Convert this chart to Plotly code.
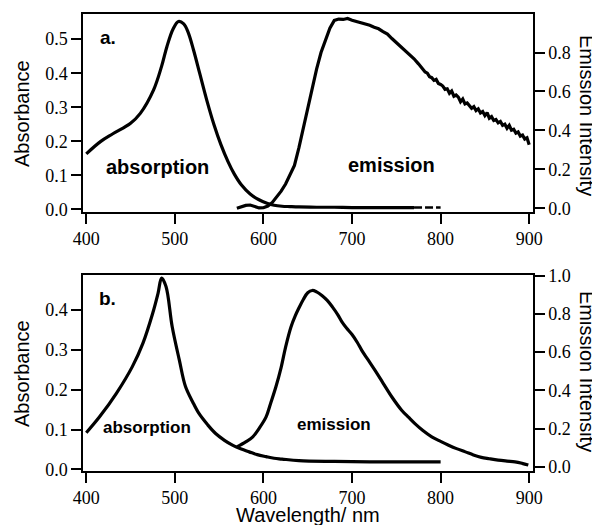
import plotly.graph_objects as go

# ---------------- data ----------------
# Panel a
abs_a_wl = [400, 416, 430, 450, 461, 476, 485, 491, 498, 504, 510, 515, 521, 528, 536, 544, 552, 560, 567, 575, 585, 595, 604, 612, 621, 630, 640, 660, 680, 700, 730, 770]
abs_a_val = [0.163, 0.199, 0.222, 0.253, 0.282, 0.351, 0.420, 0.478, 0.530, 0.552, 0.545, 0.520, 0.469, 0.400, 0.321, 0.250, 0.190, 0.140, 0.104, 0.072, 0.045, 0.028, 0.018, 0.012, 0.009, 0.008, 0.007, 0.006, 0.006, 0.005, 0.005, 0.005]
abs_a_tail_wl = [770, 780, 790, 800]
abs_a_tail_val = [0.005, 0.005, 0.005, 0.005]

em_a_wl = [570, 575, 580, 585, 590, 595, 600, 605, 610, 615, 620, 625, 630, 635, 640, 645, 650, 655, 660, 665, 670, 675, 680, 685, 690, 695,
           700, 705, 710, 715, 720, 725, 730, 735, 740, 745, 750, 755, 760, 765, 770, 775,
           780, 782.5, 785, 787.5, 790, 792.5, 795, 797.5, 800, 802.5, 805, 807.5, 810, 812.5, 815, 817.5, 820, 822.5, 825, 827.5,
           830, 832.5, 835, 837.5, 840, 842.5, 845, 847.5, 850, 852.5, 855, 857.5, 860, 862.5, 865, 867.5, 870, 872.5, 875, 877.5,
           880, 882.5, 885, 887.5, 890, 892.5, 895, 897.5, 900]
em_a_val = [0.000, 0.008, 0.015, 0.017, 0.010, 0.002, 0.003, 0.012, 0.030, 0.058, 0.088, 0.125, 0.170, 0.220, 0.310, 0.410, 0.515, 0.620, 0.715, 0.800, 0.865, 0.925, 0.965, 0.972, 0.970, 0.975,
            0.966, 0.960, 0.955, 0.947, 0.940, 0.930, 0.922, 0.908, 0.895, 0.872, 0.852, 0.830, 0.812, 0.790, 0.768, 0.742,
            0.715, 0.700, 0.694, 0.676, 0.671, 0.657, 0.662, 0.641, 0.636, 0.628, 0.611, 0.614, 0.591, 0.602, 0.576, 0.582, 0.571, 0.547, 0.561, 0.536,
            0.541, 0.529, 0.514, 0.522, 0.502, 0.511, 0.490, 0.497, 0.476, 0.491, 0.463, 0.471, 0.451, 0.456, 0.439, 0.446, 0.426, 0.432, 0.411, 0.426,
            0.401, 0.406, 0.386, 0.392, 0.371, 0.376, 0.356, 0.362, 0.326]

# Panel b
abs_b_wl = [400, 415, 434, 452, 464, 475, 481, 485, 490, 497, 505, 512, 520, 527, 537, 546, 556, 565, 575, 584, 593, 603, 612, 621, 640, 680, 720, 760, 800]
abs_b_val = [0.092, 0.132, 0.191, 0.258, 0.317, 0.392, 0.442, 0.480, 0.459, 0.358, 0.275, 0.208, 0.170, 0.141, 0.112, 0.090, 0.073, 0.061, 0.051, 0.044, 0.037, 0.032, 0.028, 0.026, 0.022, 0.020, 0.019, 0.019, 0.019]

em_b_wl = [570, 580, 588, 595, 603, 608, 614, 620, 625, 631, 636, 640, 645, 650, 655, 660, 666, 672, 678, 684, 689, 694, 700, 706, 711, 718, 726, 735, 745, 756, 764, 771, 780, 790, 800, 809, 818, 828, 837, 846, 855, 865, 875, 884, 892, 899]
em_b_val = [0.104, 0.130, 0.157, 0.200, 0.261, 0.330, 0.417, 0.520, 0.626, 0.730, 0.790, 0.830, 0.875, 0.910, 0.922, 0.915, 0.896, 0.870, 0.835, 0.795, 0.755, 0.724, 0.692, 0.650, 0.609, 0.560, 0.504, 0.438, 0.365, 0.296, 0.258, 0.226, 0.190, 0.157, 0.133, 0.113, 0.095, 0.078, 0.062, 0.049, 0.042, 0.035, 0.030, 0.026, 0.018, 0.009]

x_ticks = [400, 500, 600, 700, 800, 900]
abs_a_ticks = [0.0, 0.1, 0.2, 0.3, 0.4, 0.5]
em_a_ticks = [0.0, 0.2, 0.4, 0.6, 0.8]
abs_b_ticks = [0.0, 0.1, 0.2, 0.3, 0.4]
em_b_ticks = [0.0, 0.2, 0.4, 0.6, 0.8, 1.0]

# ---------------- figure ----------------
LW = 3.2
fig = go.Figure()
fig.add_trace(go.Scatter(x=abs_a_wl, y=abs_a_val, mode="lines", line=dict(color="black", width=LW, shape="spline"), xaxis="x", yaxis="y"))
fig.add_trace(go.Scatter(x=abs_a_tail_wl, y=abs_a_tail_val, mode="lines", line=dict(color="black", width=2.5, dash="8px,3px"), xaxis="x", yaxis="y"))
fig.add_trace(go.Scatter(x=em_a_wl, y=em_a_val, mode="lines", line=dict(color="black", width=LW), xaxis="x", yaxis="y2"))
fig.add_trace(go.Scatter(x=abs_b_wl, y=abs_b_val, mode="lines", line=dict(color="black", width=LW, shape="spline"), xaxis="x2", yaxis="y3"))
fig.add_trace(go.Scatter(x=em_b_wl, y=em_b_val, mode="lines", line=dict(color="black", width=LW, shape="spline"), xaxis="x2", yaxis="y4"))

SERIF = "Liberation Serif, Times New Roman, DejaVu Serif, serif"
SANS = "Liberation Sans, Arial, sans-serif"
tickfont = dict(family=SERIF, size=18, color="black")
titlefont = dict(family=SANS, size=20, color="black")
xr = [396.3, 904.3]

common_x = dict(range=xr, tickvals=x_ticks, ticks="outside", ticklen=10, tickwidth=1.5, tickcolor="black",
                showline=True, linecolor="black", linewidth=1.5, mirror=True, showgrid=False, zeroline=False,
                tickfont=tickfont, automargin=False)
common_y = dict(ticks="outside", ticklen=10, tickwidth=1.5, tickcolor="black", showline=True, linecolor="black",
                linewidth=1.5, showgrid=False, zeroline=False, tickfont=tickfont, tickformat=".1f", automargin=False)

dom_a = [0.5667, 1.0]
dom_b = [0.0, 0.4289]

# the page adds an 8px body margin, so the figure is 592x517 and offset by 8px
fig.update_layout(
    width=592, height=517, autosize=False,
    margin=dict(l=75, r=67, t=6, b=54, pad=0, autoexpand=False),
    paper_bgcolor="white", plot_bgcolor="white",
    showlegend=False,
    xaxis=dict(common_x, anchor="y", domain=[0, 1]),
    yaxis=dict(common_y, domain=dom_a, range=[-0.008, 0.574], tickvals=abs_a_ticks, anchor="x"),
    yaxis2=dict(common_y, overlaying="y", side="right", range=[-0.019, 0.998], tickvals=em_a_ticks, anchor="x"),
    xaxis2=dict(common_x, anchor="y3", domain=[0, 1]),
    yaxis3=dict(common_y, domain=dom_b, range=[-0.004, 0.488], tickvals=abs_b_ticks, anchor="x2"),
    yaxis4=dict(common_y, overlaying="y3", side="right", range=[-0.022, 1.003], tickvals=em_b_ticks, anchor="x2"),
)

# axis titles (reference-pixel positions converted to paper coordinates)
def px_x(p):
    return (p - 83) / 450.0

def px_y(p):
    return (471 - p) / 457.0

fig.add_annotation(x=px_x(22), y=px_y(113), xref="paper", yref="paper", text="Absorbance", textangle=-90,
                   showarrow=False, font=titlefont, xanchor="center", yanchor="middle")
fig.add_annotation(x=px_x(22), y=px_y(373), xref="paper", yref="paper", text="Absorbance", textangle=-90,
                   showarrow=False, font=titlefont, xanchor="center", yanchor="middle")
fig.add_annotation(x=px_x(587), y=px_y(115), xref="paper", yref="paper", text="Emission Intensity", textangle=90,
                   showarrow=False, font=titlefont, xanchor="center", yanchor="middle")
fig.add_annotation(x=px_x(587), y=px_y(371), xref="paper", yref="paper", text="Emission Intensity", textangle=90,
                   showarrow=False, font=titlefont, xanchor="center", yanchor="middle")
fig.add_annotation(x=px_x(308), y=px_y(515), xref="paper", yref="paper", text="Wavelength/ nm",
                   showarrow=False, font=titlefont, xanchor="center", yanchor="middle")

lab = dict(family=SANS, color="black")
fig.add_annotation(x=425, y=0.504, xref="x", yref="y", text="<b>a.</b>", showarrow=False, font=dict(lab, size=19))
fig.add_annotation(x=480, y=0.124, xref="x", yref="y", text="<b>absorption</b>", showarrow=False, font=dict(lab, size=20))
fig.add_annotation(x=745, y=0.130, xref="x", yref="y", text="<b>emission</b>", showarrow=False, font=dict(lab, size=20))
fig.add_annotation(x=424, y=0.43, xref="x2", yref="y3", text="<b>b.</b>", showarrow=False, font=dict(lab, size=19))
fig.add_annotation(x=469, y=0.104, xref="x2", yref="y3", text="<b>absorption</b>", showarrow=False, font=dict(lab, size=17))
fig.add_annotation(x=680, y=0.112, xref="x2", yref="y3", text="<b>emission</b>", showarrow=False, font=dict(lab, size=17))

fig.write_html("out.html")
